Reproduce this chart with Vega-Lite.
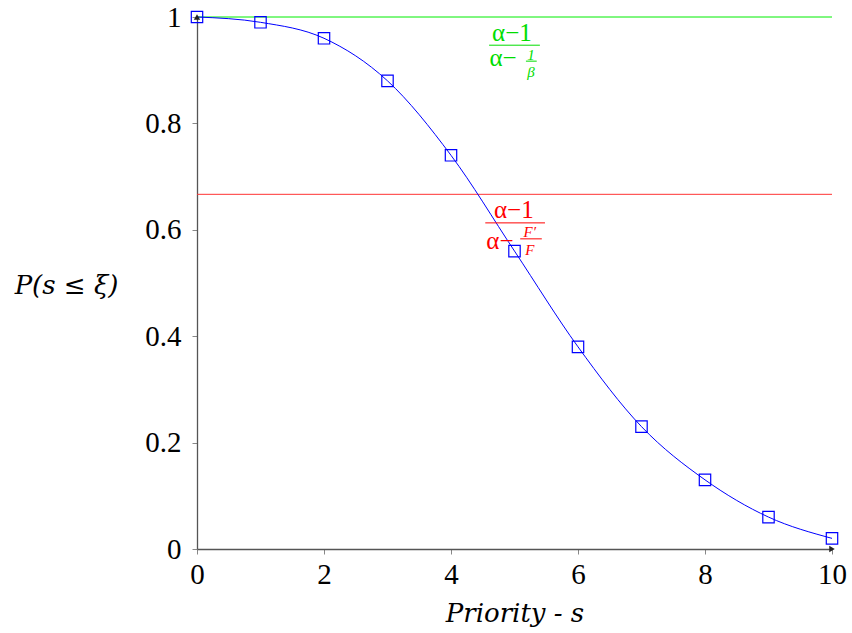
{
  "$schema": "https://vega.github.io/schema/vega-lite/v6.json",
  "autosize": "none",
  "width": 635,
  "height": 532,
  "padding": {"left": 197, "top": 17, "right": 20, "bottom": 84},
  "background": "white",
  "config": {
    "view": {"stroke": null},
    "axis": {
      "grid": false,
      "domainColor": "#555555",
      "domainWidth": 1.3,
      "tickColor": "#888888",
      "tickSize": 5,
      "labelFont": "Liberation Serif",
      "labelFontSize": 29,
      "labelColor": "black",
      "titleFont": "DejaVu Serif",
      "titleFontSize": 26,
      "titleFontWeight": "normal",
      "titleColor": "black"
    }
  },
  "datasets": {
    "curve": [
      {"s": 0, "p": 1.0},
      {"s": 1, "p": 0.99},
      {"s": 2, "p": 0.96},
      {"s": 3, "p": 0.88},
      {"s": 4, "p": 0.74},
      {"s": 5, "p": 0.56},
      {"s": 6, "p": 0.38},
      {"s": 7, "p": 0.23},
      {"s": 8, "p": 0.13},
      {"s": 9, "p": 0.06},
      {"s": 10, "p": 0.02}
    ],
    "bigText": [
      {"x": 4.96, "y": 0.955, "t": "α−1", "c": "g"},
      {"x": 4.82, "y": 0.907, "t": "α−", "c": "g"},
      {"x": 4.99, "y": 0.622, "t": "α−1", "c": "r"},
      {"x": 4.77, "y": 0.564, "t": "α−", "c": "r"}
    ],
    "smallText": [
      {"x": 5.26, "y": 0.929, "t": "1", "c": "g"},
      {"x": 5.26, "y": 0.897, "t": "β", "c": "g"},
      {"x": 5.24, "y": 0.596, "t": "F′", "c": "r"},
      {"x": 5.24, "y": 0.562, "t": "F", "c": "r"}
    ],
    "bars": [
      {"x1": 4.60, "x2": 5.40, "y": 0.947, "c": "g"},
      {"x1": 5.18, "x2": 5.35, "y": 0.917, "c": "g"},
      {"x1": 4.54, "x2": 5.48, "y": 0.613, "c": "r"},
      {"x1": 5.09, "x2": 5.43, "y": 0.583, "c": "r"}
    ],
    "one": [{}]
  },
  "layer": [
    {
      "data": {"name": "one"},
      "mark": {"type": "rule", "color": "#00ee00", "strokeWidth": 1},
      "encoding": {
        "y": {"datum": 1, "type": "quantitative", "scale": {"domain": [0, 1], "nice": false, "zero": false}}
      }
    },
    {
      "data": {"name": "one"},
      "mark": {"type": "rule", "color": "#ff3333", "strokeWidth": 1},
      "encoding": {
        "y": {"datum": 0.6667, "type": "quantitative"}
      }
    },
    {
      "data": {"name": "curve"},
      "mark": {"type": "line", "color": "#0000ff", "strokeWidth": 1, "interpolate": "monotone"},
      "encoding": {
        "x": {
          "field": "s", "type": "quantitative",
          "scale": {"domain": [0, 10], "nice": false, "zero": false},
          "axis": {
            "values": [0, 2, 4, 6, 8, 10], "format": "~g", "title": "Priority - s",
            "titleFontStyle": "italic", "titleY": 64, "titleBaseline": "middle",
            "labelPadding": 6, "labelFlush": false
          }
        },
        "y": {
          "field": "p", "type": "quantitative",
          "scale": {"domain": [0, 1], "nice": false, "zero": false},
          "axis": {
            "values": [0, 0.2, 0.4, 0.6, 0.8, 1], "format": "~g", "title": "P(s ≤ ξ)",
            "titleFontStyle": "italic", "titleAngle": 0, "titleX": -131, "titleY": 268,
            "titleAlign": "center", "titleBaseline": "middle",
            "labelPadding": 11, "labelFlush": false
          }
        }
      }
    },
    {
      "data": {"name": "curve"},
      "mark": {"type": "point", "shape": "square", "size": 130, "filled": false, "color": "#0000ff", "strokeWidth": 1.2, "opacity": 1},
      "encoding": {
        "x": {"field": "s", "type": "quantitative"},
        "y": {"field": "p", "type": "quantitative"}
      }
    },
    {
      "data": {"name": "bigText"},
      "mark": {"type": "text", "font": "Liberation Serif", "fontSize": 25, "align": "center", "baseline": "alphabetic"},
      "encoding": {
        "x": {"field": "x", "type": "quantitative"},
        "y": {"field": "y", "type": "quantitative"},
        "text": {"field": "t"},
        "color": {"field": "c", "type": "nominal", "scale": {"domain": ["g", "r"], "range": ["#00dd00", "#ff0000"]}, "legend": null}
      }
    },
    {
      "data": {"name": "smallText"},
      "mark": {"type": "text", "font": "Liberation Serif", "fontSize": 15, "fontStyle": "italic", "align": "center", "baseline": "middle"},
      "encoding": {
        "x": {"field": "x", "type": "quantitative"},
        "y": {"field": "y", "type": "quantitative"},
        "text": {"field": "t"},
        "color": {"field": "c", "type": "nominal", "legend": null}
      }
    },
    {
      "data": {"name": "bars"},
      "mark": {"type": "rule", "strokeWidth": 1},
      "encoding": {
        "x": {"field": "x1", "type": "quantitative"},
        "x2": {"field": "x2"},
        "y": {"field": "y", "type": "quantitative"},
        "color": {"field": "c", "type": "nominal", "legend": null}
      }
    },
    {
      "data": {"name": "one"},
      "mark": {"type": "point", "shape": "triangle-right", "size": 40, "filled": true, "color": "#222222", "opacity": 1},
      "encoding": {
        "x": {"datum": 10, "type": "quantitative"},
        "y": {"datum": 0, "type": "quantitative"}
      }
    },
    {
      "data": {"name": "one"},
      "mark": {"type": "point", "shape": "triangle-up", "size": 40, "filled": true, "color": "#222222", "opacity": 1},
      "encoding": {
        "x": {"datum": 0, "type": "quantitative"},
        "y": {"datum": 1, "type": "quantitative"}
      }
    }
  ]
}
